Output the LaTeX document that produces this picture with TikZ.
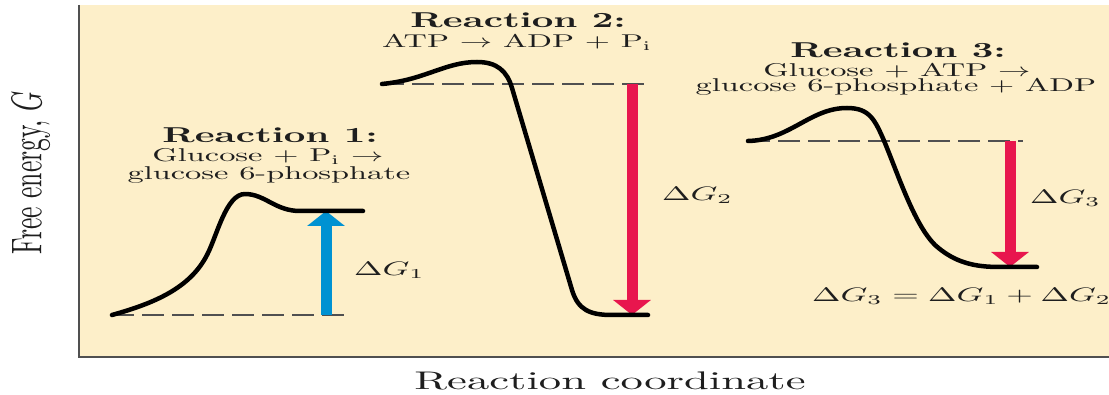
\documentclass[tikz,border=0pt]{standalone}
\usetikzlibrary{arrows.meta}
\definecolor{cream}{RGB}{253,239,201}
\definecolor{gblue}{RGB}{0,146,210}
\definecolor{gred}{RGB}{232,22,78}
\definecolor{axisgray}{RGB}{80,80,80}
\definecolor{txt}{RGB}{30,30,30}
% #1 = vertical scale of 10pt text (size/10); horizontal scale is 1.75 times that
\newcommand{\wtxt}[2]{\pgfmathsetmacro{\wsx}{1.75*#1}\scalebox{\wsx}[#1]{#2}}
\begin{document}
\begin{tikzpicture}[x=1pt,y=-1pt,
  curve/.style={line width=4.5pt, line cap=round, line join=round},
  dashline/.style={line width=1.8pt, draw=axisgray, dash pattern=on 22pt off 8pt},
  dgarrow/.style={line width=11pt, -{Triangle[length=15pt,width=37pt]}},
  lbl/.style={inner sep=0pt, text=txt, anchor=base},
  lblw/.style={inner sep=0pt, text=txt, anchor=base west},
]
\useasboundingbox (0,0) rectangle (1109,395);
% panel
\fill[cream] (79,5) rectangle (1109,357);
\draw[axisgray, line width=2.5pt] (79,5) -- (79,357) -- (1109,357);

% level coordinates
\coordinate (r1lo) at (326,315);
\coordinate (r1hi) at (326,211);
\coordinate (r2hi) at (632,84);
\coordinate (r2lo) at (632,315);
\coordinate (r3hi) at (1010,141);
\coordinate (r3lo) at (1010,267);

% dashed reference lines
\draw[dashline] (112,315) -- (350,315);
\draw[dashline] (382,84) -- (647,84);
\draw[dashline] (748,141) -- (1023,141);

% Delta G arrows
\draw[dgarrow, draw=gblue, fill=gblue] (r1lo) -- (r1hi);
\draw[dgarrow, draw=gred, fill=gred] (r2hi) -- (r2lo);
\draw[dgarrow, draw=gred, fill=gred] (r3hi) -- (r3lo);

% energy curves
\draw[curve] (112,315) .. controls (155,303) and (190,288) .. (207,255)
  .. controls (217,236) and (226,194) .. (245,194)
  .. controls (265,194) and (275,211) .. (300,211) -- (363,211);
\draw[curve] (382,84) .. controls (425,80) and (445,62) .. (477,62)
  .. controls (497,62) and (507,71) .. (512,88) -- (572,290)
  .. controls (578,310) and (590,315) .. (612,315) -- (648,315);
\draw[curve] (748,141) .. controls (790,140) and (810,108) .. (847,108)
  .. controls (870,108) and (875,120) .. (885,143)
  .. controls (900,180) and (915,225) .. (935,245)
  .. controls (955,263) and (975,267) .. (1000,267) -- (1037,267);

% titles
\node[lbl] (t1a) at (270,143) {\wtxt{2.15}{\bfseries Reaction 1:}};
\node[lbl] (t1b) at (268,162) {\wtxt{1.85}{Glucose + P$_{\mathrm{i}}$ $\rightarrow$}};
\node[lbl] (t1c) at (269,180) {\wtxt{1.85}{glucose 6-phosphate}};
\node[lbl] (t2a) at (518,28) {\wtxt{2.15}{\bfseries Reaction 2:}};
\node[lbl] (t2b) at (517,48) {\wtxt{1.85}{ATP $\rightarrow$ ADP + P$_{\mathrm{i}}$}};
\node[lbl] (t3a) at (898,58) {\wtxt{2.15}{\bfseries Reaction 3:}};
\node[lbl] (t3b) at (897,77) {\wtxt{1.85}{Glucose + ATP $\rightarrow$}};
\node[lbl] (t3c) at (896,92) {\wtxt{1.85}{glucose 6-phosphate + ADP}};

% Delta G labels
\node[lblw] (dg1) at (354,276) {\wtxt{1.95}{$\Delta G_1$}};
\node[lblw] (dg2) at (662,201) {\wtxt{1.95}{$\Delta G_2$}};
\node[lblw] (dg3) at (1030,204) {\wtxt{1.95}{$\Delta G_3$}};
\node[lblw] (eq) at (812,302) {\wtxt{1.95}{$\Delta G_3 = \Delta G_1 + \Delta G_2$}};

% axis labels
\node[lbl] (xlab) at (610,389) {\wtxt{2.55}{Reaction coordinate}};
\node[inner sep=0pt, text=txt] (ylab) at (31,173)
  {\scalebox{4.3}[2.56]{\rotatebox{90}{Free energy, $G$}}};
\end{tikzpicture}
\end{document}
